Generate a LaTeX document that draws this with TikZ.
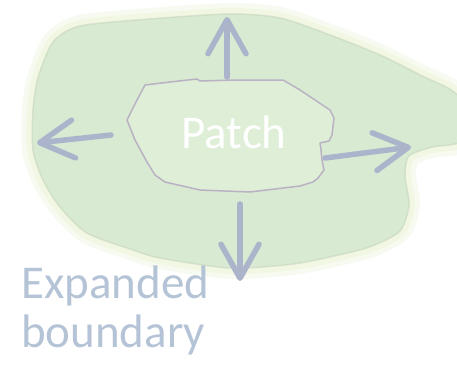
\documentclass[tikz,border=0pt]{standalone}
\usepackage{fontspec}
\setmainfont{Carlito}
\usetikzlibrary{arrows.meta}
\definecolor{blobfill}{RGB}{216,235,210}
\definecolor{blobglow}{RGB}{238,245,222}
\definecolor{blobedge}{RGB}{200,214,188}
\definecolor{patchfill}{RGB}{222,238,215}
\definecolor{patchline}{RGB}{186,178,196}
\definecolor{arrowcol}{RGB}{172,180,204}
\definecolor{labelcol}{RGB}{180,196,214}
\tikzset{
  growarrow/.style={draw=arrowcol, line width=5.5pt, line cap=round,
    -{Straight Barb[length=34pt, width=38pt, round]}},
  bigtext/.style={inner sep=0pt, font=\fontsize{47}{52}\selectfont}
}
\begin{document}
\begin{tikzpicture}[x=1pt,y=-1pt]
\useasboundingbox (0,0) rectangle (457,369);
\def\blobpath{plot[smooth cycle, tension=0.45] coordinates {(33,110) (38,78) (53,42) (80,26) (150,19) (230,14) (280,18) (330,35) (380,55) (420,75) (458,96) (462,140) (432,147) (409,156) (405,176) (409,205) (400,231) (372,246) (343,254) (293,264) (230,268) (160,258) (133,250) (87,233) (60,207) (43,180) (33,150)}}
% soft glow round the expanded boundary
\draw[blobglow, line width=22pt, line join=round, opacity=0.45] \blobpath;
\draw[blobglow, line width=12pt, line join=round, opacity=0.7] \blobpath;
\fill[blobfill] \blobpath;
\draw[blobedge, line width=1.5pt, opacity=0.6] \blobpath;
% patch
\draw[patchline, line width=1.5pt, fill=patchfill, line join=round]
  (145,85) -- (170,82) -- (197,79) -- (200,81) -- (235,80) -- (283,80)
  -- (300,90) -- (315,100) -- (330,110) -- (334,118) -- (332,135)
  -- (329,141) -- (320,143) -- (321,150) -- (322,160) -- (324,170)
  -- (318,178) -- (313,182) -- (300,186) -- (250,192) -- (200,190)
  -- (165,182) -- (155,175) -- (147,162) -- (135,140) -- (127,120)
  -- (137,100) -- cycle;
\node[bigtext, text=white, anchor=base] (patch) at (234,148) {Patch};
% arrow end points
\coordinate (upS) at (227,77);
\coordinate (upT) at (227,17);
\coordinate (leftS) at (111,135);
\coordinate (leftT) at (37,143);
\coordinate (rightS) at (325,158);
\coordinate (rightT) at (411,147);
\coordinate (downS) at (240,204);
\coordinate (downT) at (240,281);
\draw[growarrow] (upS) -- (upT);
\draw[growarrow] (leftS) -- (leftT);
\draw[growarrow] (rightS) -- (rightT);
\draw[growarrow] (downS) -- (downT);
% label
\node[bigtext, text=labelcol, anchor=base west] (exp) at (21,298) {Expanded};
\node[bigtext, text=labelcol, anchor=base west] (bnd) at (21,347) {boundary};
\end{tikzpicture}
\end{document}
